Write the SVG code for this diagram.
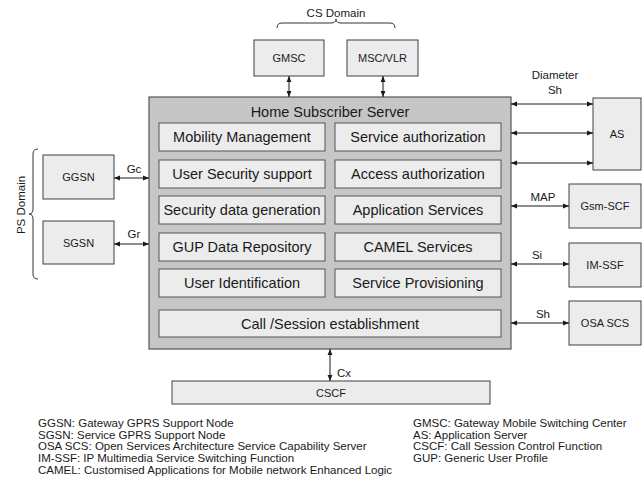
<svg xmlns="http://www.w3.org/2000/svg" width="644" height="487" viewBox="0 0 644 487">
<style>
text{font-family:"Liberation Sans",Arial,sans-serif;fill:#1a1a1a}
.box{fill:#ececec;stroke:#404040;stroke-width:1}
.hss{fill:#c6c6c6;stroke:#555;stroke-width:1.2}
.in{fill:#ececec;stroke:#555;stroke-width:1}
.f{font-size:14.5px;text-anchor:middle}
.s{font-size:11px;text-anchor:middle}
.l{font-size:11.5px}
.c{stroke:#1a1a1a;stroke-width:1;fill:none}
.br{stroke:#333;stroke-width:1;fill:none}
</style>
<defs>
<marker id="ah" viewBox="0 0 10 10" refX="10" refY="5" markerWidth="6" markerHeight="6" orient="auto-start-reverse" markerUnits="userSpaceOnUse">
<path d="M0,1 L10,5 L0,9 z" fill="#1a1a1a"/>
</marker>
</defs>
<rect width="644" height="487" fill="#fff"/>
<g id="cs-domain">
<path class="br" d="M277,28 Q277,23 282,23 L331,23 Q336,23 336,19 Q336,23 341,23 L390,23 Q395,23 395,28"/>
<text class="l" x="336" y="17" text-anchor="middle">CS Domain</text>
</g>
<g id="ps-domain">
<path class="br" d="M38,149 Q33,149 33,154 L33,209 Q33,214 29,214 Q33,214 33,219 L33,274 Q33,279 38,279"/>
<text class="l" transform="translate(25,205) rotate(-90)" text-anchor="middle">PS Domain</text>
</g>
<g id="gmsc"><rect class="box" x="254" y="40" width="70" height="36"/><text class="s" x="289" y="62">GMSC</text></g>
<g id="mscvlr"><rect class="box" x="347" y="40" width="71" height="36"/><text class="s" x="382.5" y="62">MSC/VLR</text></g>
<g id="ggsn"><rect class="box" x="43" y="155" width="71" height="44"/><text class="s" x="78.5" y="181">GGSN</text></g>
<g id="sgsn"><rect class="box" x="43" y="221" width="71" height="43"/><text class="s" x="78.5" y="247">SGSN</text></g>
<g id="as"><rect class="box" x="593" y="98" width="48" height="72"/><text class="s" x="617" y="138">AS</text></g>
<g id="gsmscf"><rect class="box" x="569" y="184" width="72" height="44"/><text class="s" x="605" y="210">Gsm-SCF</text></g>
<g id="imssf"><rect class="box" x="569" y="243" width="72" height="44"/><text class="s" x="605" y="269">IM-SSF</text></g>
<g id="osascs"><rect class="box" x="569" y="301" width="72" height="44"/><text class="s" x="605" y="327">OSA SCS</text></g>
<g id="cscf"><rect class="box" x="172" y="381" width="318" height="23"/><text class="s" x="331" y="397">CSCF</text></g>
<g id="hss">
<rect class="hss" x="149" y="97" width="362" height="252"/>
<text class="f" x="330" y="117">Home Subscriber Server</text>
<rect class="in" x="159" y="123" width="166" height="28"/><text class="f" x="242" y="142">Mobility Management</text>
<rect class="in" x="335" y="123" width="166" height="28"/><text class="f" x="418" y="142">Service authorization</text>
<rect class="in" x="159" y="160" width="166" height="28"/><text class="f" x="242" y="179">User Security support</text>
<rect class="in" x="335" y="160" width="166" height="28"/><text class="f" x="418" y="179">Access authorization</text>
<rect class="in" x="159" y="196" width="166" height="28"/><text class="f" x="242" y="215">Security data generation</text>
<rect class="in" x="335" y="196" width="166" height="28"/><text class="f" x="418" y="215">Application Services</text>
<rect class="in" x="159" y="233" width="166" height="28"/><text class="f" x="242" y="252">GUP Data Repository</text>
<rect class="in" x="335" y="233" width="166" height="28"/><text class="f" x="418" y="252">CAMEL Services</text>
<rect class="in" x="159" y="269" width="166" height="28"/><text class="f" x="242" y="288">User Identification</text>
<rect class="in" x="335" y="269" width="166" height="28"/><text class="f" x="418" y="288">Service Provisioning</text>
<rect class="in" x="159" y="310" width="342" height="27"/><text class="f" x="330" y="329">Call /Session establishment</text>
</g>
<g id="connectors">
<line class="c" x1="289" y1="76" x2="289" y2="97" marker-start="url(#ah)" marker-end="url(#ah)"/>
<line class="c" x1="383" y1="76" x2="383" y2="97" marker-start="url(#ah)" marker-end="url(#ah)"/>
<line class="c" x1="114" y1="178" x2="149" y2="178" marker-start="url(#ah)" marker-end="url(#ah)"/>
<line class="c" x1="114" y1="244" x2="149" y2="244" marker-start="url(#ah)" marker-end="url(#ah)"/>
<line class="c" x1="511" y1="104" x2="593" y2="104" marker-start="url(#ah)" marker-end="url(#ah)"/>
<line class="c" x1="511" y1="133" x2="593" y2="133" marker-start="url(#ah)" marker-end="url(#ah)"/>
<line class="c" x1="511" y1="163" x2="593" y2="163" marker-start="url(#ah)" marker-end="url(#ah)"/>
<line class="c" x1="511" y1="206" x2="569" y2="206" marker-start="url(#ah)" marker-end="url(#ah)"/>
<line class="c" x1="511" y1="264" x2="569" y2="264" marker-start="url(#ah)" marker-end="url(#ah)"/>
<line class="c" x1="511" y1="323" x2="569" y2="323" marker-start="url(#ah)" marker-end="url(#ah)"/>
<line class="c" x1="330" y1="349" x2="330" y2="381" marker-start="url(#ah)" marker-end="url(#ah)"/>
<text class="l" x="134" y="173" text-anchor="middle">Gc</text>
<text class="l" x="134" y="238" text-anchor="middle">Gr</text>
<text class="l" x="555" y="79" text-anchor="middle">Diameter</text>
<text class="l" x="555" y="94" text-anchor="middle">Sh</text>
<text class="l" x="543" y="201" text-anchor="middle">MAP</text>
<text class="l" x="537" y="259" text-anchor="middle">Si</text>
<text class="l" x="543" y="318" text-anchor="middle">Sh</text>
<text class="l" x="337" y="377">Cx</text>
</g>
<g id="legend" class="l">
<text x="38" y="427">GGSN: Gateway GPRS Support Node</text>
<text x="38" y="438.7">SGSN: Service GPRS Support Node</text>
<text x="38" y="450.4">OSA SCS: Open Services Architecture Service Capability Server</text>
<text x="38" y="462">IM-SSF: IP Multimedia Service Switching Function</text>
<text x="38" y="473.7">CAMEL: Customised Applications for Mobile network Enhanced Logic</text>
<text x="413" y="427">GMSC: Gateway Mobile Switching Center</text>
<text x="413" y="438.7">AS: Application Server</text>
<text x="413" y="450.4">CSCF: Call Session Control Function</text>
<text x="413" y="462">GUP: Generic User Profile</text>
</g>
</svg>
